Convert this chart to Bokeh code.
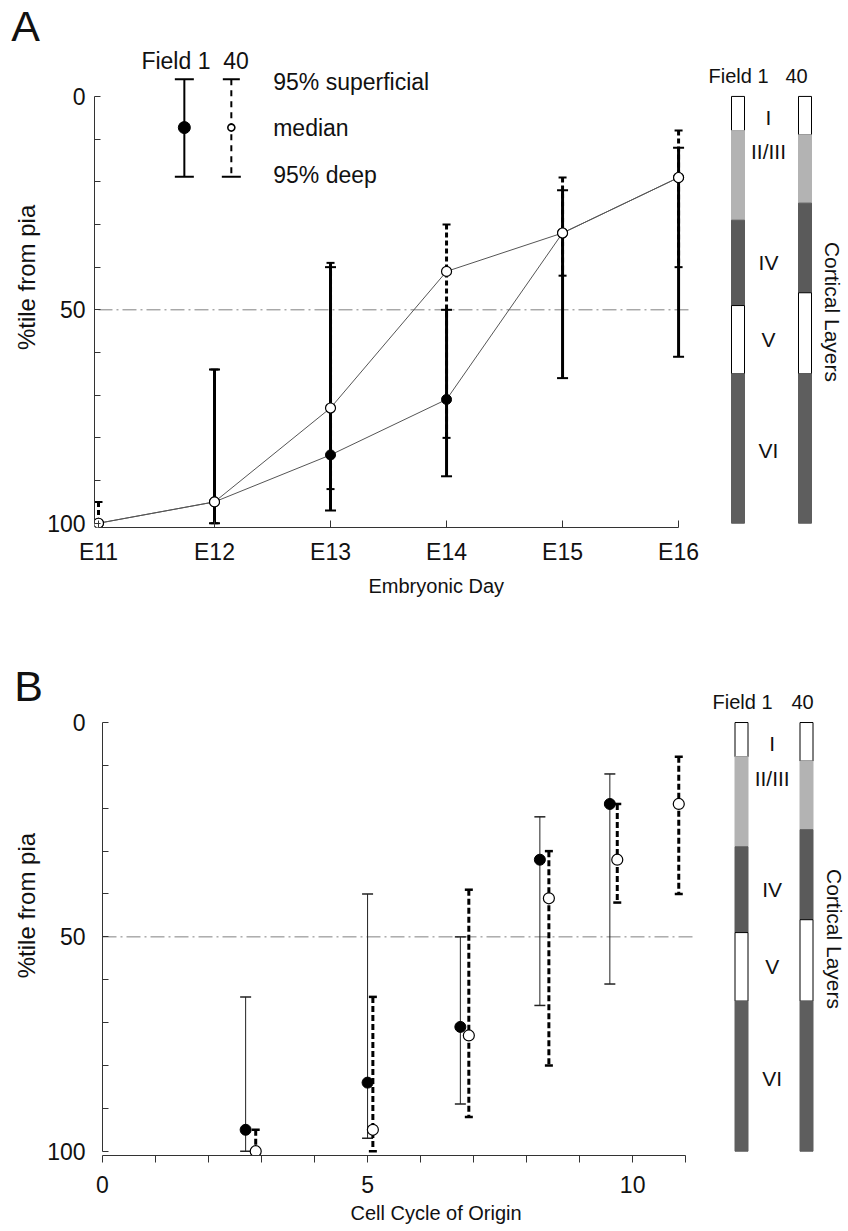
import math
from bokeh.plotting import figure
from bokeh.models import Range1d, FixedTicker, Title
from bokeh.layouts import row, column
from bokeh.embed import file_html
from bokeh.resources import INLINE
from bokeh.core.properties import value

# ---------------- data ----------------
days = ["E11", "E12", "E13", "E14", "E15", "E16"]
f1_median = [100, 95, 84, 71, 32, 19]
f1_sup = [100, 64, 40, 50, 22, 12]
f1_deep = [100, 100, 97, 89, 66, 61]
f40_median = [100, 95, 73, 41, 32, 19]
f40_sup = [95, 64, 39, 30, 19, 8]
f40_deep = [100, 100, 92, 80, 42, 40]

# cell cycle of origin of each day (Field 1 E11 not plotted)
f1_cycle = [None, 2.70, 5.00, 6.75, 8.25, 9.57]
f40_cycle = [2.89, 5.10, 6.91, 8.42, 9.71, 10.87]

layer_names = ["I", "II/III", "IV", "V", "VI"]
f1_layers = [0, 8, 29, 49, 65, 100]
f40_layers = [0, 9, 25, 46, 65, 100]
layer_colors = ["white", "#b3b3b3", "#5a5a5a", "white", "#5e5e5e"]

y_ticks = [0, 50, 100]
y_minor = [10, 20, 30, 40, 60, 70, 80, 90]
cycle_ticks = [0, 5, 10]
cycle_minor = [1, 2, 3, 4, 6, 7, 8, 9, 11]

legend_texts = ["95% superficial", "median", "95% deep"]

FONT = "Liberation Sans"
AX = "#333333"
TXT = "#111111"
STRIP_W, MAIN_W, LAYER_W = 44, 656, 146


def plain_fig(width, height, xr, yr, top, bottom):
    q = figure(width=width, height=height, x_range=xr, y_range=yr,
               output_backend="svg", toolbar_location=None,
               x_axis_location=None, y_axis_location=None,
               min_border_left=0, min_border_right=0,
               min_border_top=top, min_border_bottom=bottom)
    q.outline_line_color = None
    for g in q.grid:
        g.visible = False
    return q


def main_fig(height, xr, yr, left, top, bottom):
    p = figure(width=MAIN_W, height=height, x_range=xr, y_range=yr,
               output_backend="svg", toolbar_location=None,
               min_border_left=left, min_border_right=0,
               min_border_top=top, min_border_bottom=bottom)
    p.outline_line_color = None
    for g in p.grid:
        g.visible = False
    for ax in p.axis:
        ax.axis_line_color = AX
        ax.major_tick_line_color = AX
        ax.minor_tick_line_color = AX
        ax.major_label_text_font = FONT
        ax.major_label_text_font_size = "23px"
        ax.major_label_text_color = TXT
    p.yaxis.ticker = FixedTicker(ticks=y_ticks, minor_ticks=y_minor)
    p.yaxis.bounds = (0, 100)
    p.yaxis.major_tick_in = 6
    p.yaxis.major_tick_out = 0
    p.yaxis.minor_tick_in = 6
    p.yaxis.minor_tick_out = 0
    return p


def strip_fig(yr, height, top, bottom, letter, letter_x, letter_y, lab_y):
    s = plain_fig(STRIP_W, height, Range1d(0, STRIP_W), yr, top, bottom)
    s.text(x=[letter_x], y=[letter_y], text=[letter], text_font=value(FONT),
           text_font_size="43px", text_color=TXT, text_align="center",
           text_baseline="middle")
    s.text(x=[26], y=[lab_y], text=["%tile from pia"], angle=math.pi / 2,
           text_font=value(FONT), text_font_size="24px", text_color=TXT,
           text_align="center", text_baseline="middle")
    return s


def x_title(p, text, offset, standoff):
    p.add_layout(Title(text=text, align="left", offset=offset, standoff=standoff,
                       text_font=FONT, text_font_size="20px", text_font_style="normal",
                       text_color=TXT), "below")


def hline50(p, x_end):
    p.line([0, x_end], [50, 50], line_color="#808080", line_width=1,
           line_dash="14 4 2 4")


def layers_fig(yr, height, top, bottom, c1, c40, lab_x, cort_x, f1_x, f40_x):
    q = plain_fig(LAYER_W, height, Range1d(0, LAYER_W), yr, top, bottom)
    lines = ["black" if c == "white" else c for c in layer_colors]
    for cx, bounds in ((c1, f1_layers), (c40, f40_layers)):
        q.quad(left=cx - 6.5, right=cx + 6.5, top=bounds[:-1], bottom=bounds[1:],
               fill_color=layer_colors, line_color=lines, line_width=1)
    lab_y = [5, 13, 39, 57, 83]
    q.text(x=[lab_x] * len(layer_names), y=lab_y, text=layer_names,
           text_font=value(FONT), text_font_size="21px", text_color=TXT,
           text_align="center", text_baseline="middle")
    q.text(x=[f1_x, f40_x], y=[-4.8, -4.8], text=["Field 1", "40"],
           text_font=value(FONT), text_font_size="20px", text_color=TXT,
           text_align="center", text_baseline="middle")
    q.text(x=[cort_x], y=[50.5], text=["Cortical Layers"], angle=-math.pi / 2,
           text_font=value(FONT), text_font_size="21px", text_color=TXT,
           text_align="center", text_baseline="middle")
    return q


# ---------------- panel A ----------------
HA, TOP_A, BOT_A = 609, 8, 82
xA = list(range(len(days)))
yA = Range1d(101.0, -20.6)
pA = main_fig(HA, Range1d(-0.0344, 5.189), yA, 49, TOP_A, BOT_A)
pA.yaxis.major_label_standoff = 9
pA.xaxis.ticker = FixedTicker(ticks=xA, minor_ticks=[])
pA.xaxis.major_label_overrides = {i: d for i, d in enumerate(days)}
pA.xaxis.bounds = (0, len(days) - 1)
pA.xaxis.major_tick_in = 7
pA.xaxis.major_tick_out = 0
pA.xaxis.major_label_standoff = 11
x_title(pA, "Embryonic Day", 274, 10)

hline50(pA, 5.1)
pA.line(xA, f1_median, line_color="#555555", line_width=1)
pA.line(xA, f40_median, line_color="#555555", line_width=1)
pA.segment(x0=xA, y0=f1_sup, x1=xA, y1=f1_deep, line_color="black", line_width=3)
pA.scatter(xA, f1_sup, marker="dash", size=11, line_color="black", line_width=2)
pA.scatter(xA, f1_deep, marker="dash", size=11, line_color="black", line_width=2)
pA.segment(x0=xA, y0=f40_sup, x1=xA, y1=f40_deep, line_color="black", line_width=3,
           line_dash="5 3")
pA.scatter(xA, f40_sup, marker="dash", size=8, line_color="black", line_width=2)
pA.scatter(xA, f40_deep, marker="dash", size=8, line_color="black", line_width=2)
pA.scatter(xA, f1_median, marker="circle", size=10, fill_color="black", line_color="black")
pA.scatter(xA, f40_median, marker="circle", size=10, fill_color="white",
           line_color="black", line_width=1.2)

# legend key
lx1, lx40 = 0.74, 1.145
ly = [-4.0, 7.3, 18.8]
pA.segment(x0=[lx1], y0=[ly[0]], x1=[lx1], y1=[ly[2]], line_color="black", line_width=2)
pA.scatter([lx1, lx1], [ly[0], ly[2]], marker="dash", size=19, line_color="black", line_width=2)
pA.scatter([lx1], [ly[1]], marker="circle", size=12, fill_color="black", line_color="black")
pA.segment(x0=[lx40], y0=[ly[0]], x1=[lx40], y1=[ly[2]], line_color="black", line_width=2,
           line_dash="6 5")
pA.scatter([lx40], [ly[0]], marker="dash", size=17, line_color="black", line_width=2)
pA.scatter([lx40], [ly[2]], marker="dash", size=19, line_color="black", line_width=2)
pA.scatter([lx40], [ly[1]], marker="circle", size=7, fill_color="white", line_color="black",
           line_width=1.6)
pA.text(x=[1.506] * 3, y=[-3.3, 7.3, 18.5], text=legend_texts, text_font=value(FONT),
        text_font_size="23px", text_color=TXT, text_baseline="middle")
pA.text(x=[0.37, 1.076], y=[-8.3, -8.3], text=["Field 1", "40"], text_font=value(FONT),
        text_font_size="23px", text_color=TXT, text_baseline="middle")

sA = strip_fig(yA, HA, TOP_A, BOT_A, "A", 25, -16.6, 42.4)
lA = layers_fig(yA, HA, TOP_A, BOT_A, 37.5, 104.5, 68, 132, 38, 96)

# ---------------- panel B ----------------
HB, TOP_B, BOT_B = 621, 50, 75
yB = Range1d(101.0, -14.7)
pB = main_fig(HB, Range1d(0, 11.28), yB, 58, TOP_B, BOT_B)
pB.yaxis.major_label_standoff = 17
pB.xaxis.ticker = FixedTicker(ticks=cycle_ticks, minor_ticks=cycle_minor)
pB.xaxis.bounds = (0, 11)
pB.xaxis.major_tick_in = 0
pB.xaxis.major_tick_out = 7
pB.xaxis.minor_tick_in = 0
pB.xaxis.minor_tick_out = 7
pB.xaxis.major_label_standoff = 13
x_title(pB, "Cell Cycle of Origin", 248, 9)

hline50(pB, 11.2)
idx1 = [i for i, c in enumerate(f1_cycle) if c is not None]
c1 = [f1_cycle[i] for i in idx1]
s1 = [f1_sup[i] for i in idx1]
d1 = [f1_deep[i] for i in idx1]
m1 = [f1_median[i] for i in idx1]
pB.segment(x0=c1, y0=s1, x1=c1, y1=d1, line_color="#222222", line_width=1)
pB.scatter(c1, s1, marker="dash", size=11, line_color="#222222", line_width=1.5)
pB.scatter(c1, d1, marker="dash", size=11, line_color="#222222", line_width=1.5)
pB.segment(x0=f40_cycle, y0=f40_sup, x1=f40_cycle, y1=f40_deep, line_color="black",
           line_width=3, line_dash="6 3")
pB.scatter(f40_cycle, f40_sup, marker="dash", size=8, line_color="black", line_width=2.5)
pB.scatter(f40_cycle, f40_deep, marker="dash", size=8, line_color="black", line_width=2.5)
pB.scatter(c1, m1, marker="circle", size=11, fill_color="black", line_color="black")
pB.scatter(f40_cycle, f40_median, marker="circle", size=11, fill_color="white",
           line_color="black", line_width=1.2)

sB = strip_fig(yB, HB, TOP_B, BOT_B, "B", 28, -8.6, 42.7)
lB = layers_fig(yB, HB, TOP_B, BOT_B, 41, 106, 71.7, 134, 42, 102)

layout = column(row(sA, pA, lA), row(sB, pB, lB))
open("out.html", "w").write(file_html(layout, INLINE))
